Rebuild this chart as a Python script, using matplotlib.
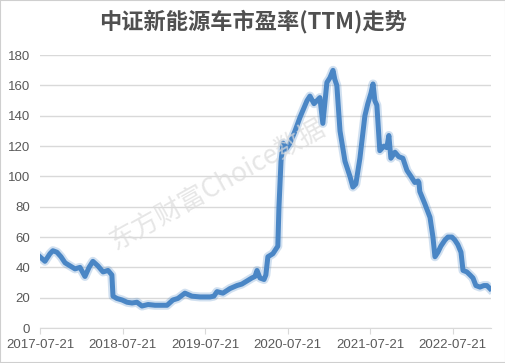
import pandas as pd
import matplotlib.pyplot as plt
import matplotlib.dates as mdates
from matplotlib.patches import Rectangle

plt.rcParams['font.family'] = ['Liberation Sans', 'Noto Sans CJK SC', 'DejaVu Sans']

# PE (TTM) of CSI New Energy Vehicle index
dates = [
    '2017-07-21', '2017-08-12', '2017-09-03', '2017-09-16', '2017-10-04', '2017-10-22',
    '2017-11-09', '2017-12-01', '2017-12-23', '2018-01-14', '2018-02-05', '2018-02-23',
    '2018-03-12', '2018-04-03', '2018-04-26', '2018-05-18', '2018-06-04', '2018-06-09',
    '2018-06-26', '2018-07-19', '2018-08-10', '2018-09-01', '2018-09-23', '2018-10-15',
    '2018-11-11', '2018-12-12', '2019-01-03', '2019-02-03', '2019-03-01', '2019-03-23',
    '2019-04-23', '2019-05-24', '2019-06-29', '2019-08-12', '2019-08-29', '2019-09-12',
    '2019-10-08', '2019-11-08', '2019-12-09', '2019-12-31', '2020-01-22', '2020-02-13',
    '2020-02-27', '2020-03-07', '2020-03-20', '2020-04-07', '2020-04-15', '2020-04-24',
    '2020-05-16', '2020-06-07', '2020-06-12', '2020-06-21', '2020-06-30', '2020-07-13',
    '2020-07-31', '2020-08-22', '2020-09-13', '2020-09-30', '2020-10-14', '2020-10-27',
    '2020-11-14', '2020-11-27', '2020-12-10', '2020-12-23', '2021-01-10', '2021-01-23',
    '2021-02-06', '2021-02-14', '2021-02-23', '2021-03-09', '2021-03-31', '2021-04-22',
    '2021-05-05', '2021-05-18', '2021-06-05', '2021-06-27', '2021-07-10', '2021-07-24',
    '2021-08-02', '2021-08-10', '2021-08-19', '2021-09-01', '2021-09-19', '2021-10-02',
    '2021-10-11', '2021-10-20', '2021-11-07', '2021-11-24', '2021-12-12', '2021-12-30',
    '2022-01-17', '2022-02-03', '2022-02-17', '2022-02-21', '2022-02-25', '2022-03-19',
    '2022-04-11', '2022-04-24', '2022-05-03', '2022-05-16', '2022-05-29', '2022-06-16',
    '2022-06-29', '2022-07-17', '2022-07-30', '2022-08-12', '2022-08-26', '2022-09-04',
    '2022-09-21', '2022-10-05', '2022-10-18', '2022-10-31', '2022-11-18', '2022-12-05',
    '2022-12-19', '2023-01-01',
]
pe = [
    47, 44, 49, 51, 50, 47,
    43, 41, 39, 40, 34, 40,
    44, 41, 37, 38, 35, 21,
    19.5, 18.5, 17, 16.5, 17, 14.5,
    15.5, 15, 15, 15, 18.5, 19.5,
    23, 21, 20.5, 20.5, 21, 24,
    23, 26, 28, 29, 31, 33,
    34, 38, 33, 32, 35, 47,
    49, 54, 80, 110, 122, 118,
    122, 130, 139, 145, 150, 153,
    148, 150, 152, 135, 162, 165,
    170, 164, 160, 130, 110, 100,
    93, 95, 112, 140, 148, 155,
    161, 150, 147, 117, 120, 119,
    127, 112, 116, 113, 112, 104,
    100, 96, 97, 96, 90, 82,
    73, 60, 47, 50, 54, 58,
    60, 60, 58, 55, 50, 38,
    37, 35, 33, 28, 27, 28,
    28, 26,
]

tick_dates = ['2017-07-21', '2018-07-21', '2019-07-21', '2020-07-21', '2021-07-21', '2022-07-21']
y_ticks = list(range(0, 181, 20))

df = pd.DataFrame({'date': pd.to_datetime(dates), 'pe': pe})

fig = plt.figure(figsize=(5.06, 3.63), dpi=100)
ax = fig.add_axes([0.079, 0.0964, 0.891, 0.7516])

# soft halo + main line
ax.plot(df['date'], df['pe'], color='#4a86c5', linewidth=6.5, alpha=0.25,
        solid_joinstyle='round', zorder=2)
ax.plot(df['date'], df['pe'], color='#4a86c5', linewidth=3.6,
        solid_joinstyle='round', zorder=3)

ax.set_xlim(pd.Timestamp('2017-07-21'), pd.Timestamp('2023-01-05'))
ax.set_ylim(0, 180)
ax.set_yticks(y_ticks)
ax.set_xticks(pd.to_datetime(tick_dates))
ax.xaxis.set_major_formatter(mdates.DateFormatter('%Y-%m-%d'))

ax.grid(axis='y', color='#d9d9d9', linewidth=1)
ax.set_axisbelow(True)
for side in ['top', 'right', 'left']:
    ax.spines[side].set_visible(False)
ax.spines['bottom'].set_color('#d9d9d9')
ax.tick_params(axis='y', length=0, pad=7, labelsize=9.5, labelcolor='#595959')
ax.tick_params(axis='x', length=4, color='#d9d9d9', pad=4, labelsize=9.5, labelcolor='#595959')

fig.text(0.5, 0.94, '中证新能源车市盈率(TTM)走势', ha='center', va='center',
         fontsize=16, fontweight='bold', color='#505050',
         family=['Noto Sans CJK SC', 'DejaVu Sans'])

# watermark
fig.text(0.43, 0.49, '东方财富Choice数据', ha='center', va='center', rotation=29,
         fontsize=19, color='#dcdcdc', alpha=0.7, zorder=5,
         family=['Noto Sans CJK SC', 'DejaVu Sans'])

fig.add_artist(Rectangle((0, 0), 1, 1, transform=fig.transFigure, fill=False,
                         edgecolor='#cfcfcf', linewidth=1.5))

fig.savefig('out.png', dpi=100)
